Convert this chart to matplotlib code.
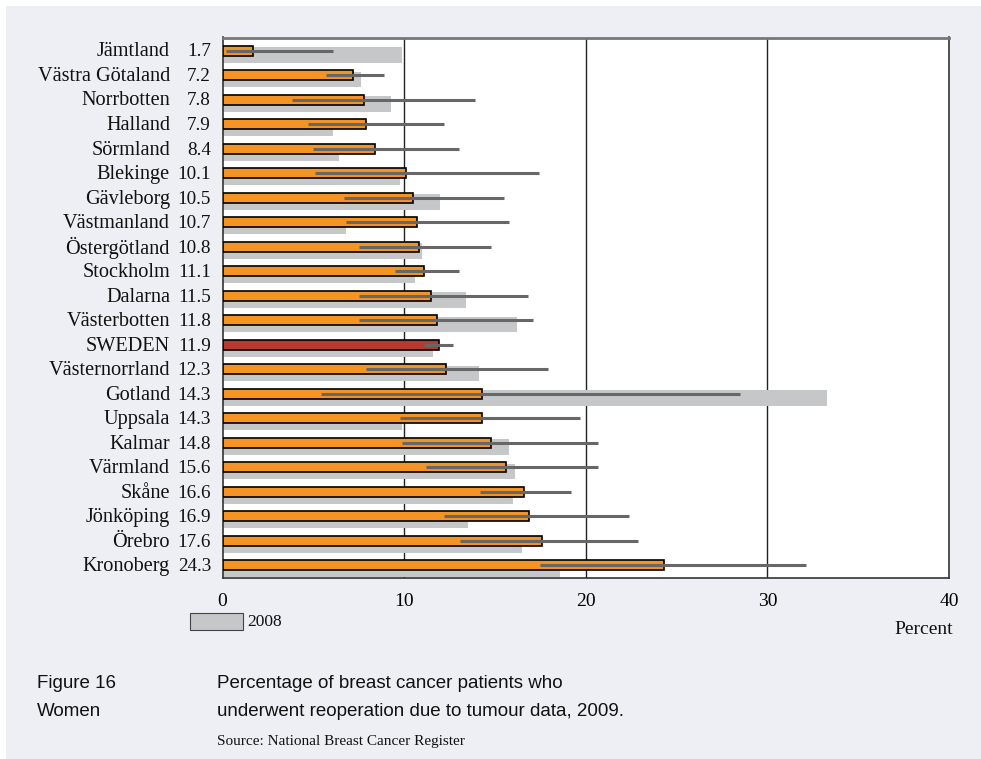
import matplotlib.pyplot as plt
from matplotlib.patches import Rectangle
from matplotlib.transforms import blended_transform_factory

regions = ["Jämtland", "Västra Götaland", "Norrbotten", "Halland", "Sörmland",
           "Blekinge", "Gävleborg", "Västmanland", "Östergötland", "Stockholm",
           "Dalarna", "Västerbotten", "SWEDEN", "Västernorrland", "Gotland",
           "Uppsala", "Kalmar", "Värmland", "Skåne", "Jönköping", "Örebro",
           "Kronoberg"]
pct_2009 = [1.7, 7.2, 7.8, 7.9, 8.4, 10.1, 10.5, 10.7, 10.8, 11.1, 11.5, 11.8,
            11.9, 12.3, 14.3, 14.3, 14.8, 15.6, 16.6, 16.9, 17.6, 24.3]
pct_2008 = [9.9, 7.6, 9.3, 6.1, 6.4, 9.8, 12.0, 6.8, 11.0, 10.6, 13.4, 16.2,
            11.6, 14.1, 33.3, 9.9, 15.8, 16.1, 16.0, 13.5, 16.5, 18.6]
ci_low = [0.2, 5.7, 3.8, 4.7, 5.0, 5.1, 6.7, 6.8, 7.5, 9.5, 7.5, 7.5,
          11.1, 7.9, 5.4, 9.8, 9.9, 11.2, 14.2, 12.2, 13.1, 17.5]
ci_high = [6.1, 8.9, 13.9, 12.2, 13.0, 17.4, 15.5, 15.8, 14.8, 13.0, 16.8, 17.1,
           12.7, 17.9, 28.5, 19.7, 20.7, 20.7, 19.2, 22.4, 22.9, 32.1]
x_ticks = [0, 10, 20, 30, 40]

bg = "#eeeff4"
orange = "#f39425"
red = "#b8392e"
grey_bar = "#c6c7c9"
ci_col = "#676767"
serif = "Liberation Serif"
sans = "Liberation Sans"

W, H = 981, 759
fig = plt.figure(figsize=(W / 100, H / 100), dpi=100, facecolor="white")
fig.add_artist(Rectangle((6 / W, 0), 1, 1 - 6 / H, transform=fig.transFigure,
                         facecolor=bg, edgecolor="none", zorder=-10))

left, right, top, bottom = 222.5, 949, 37.5, 577.7
ax = fig.add_axes([left / W, 1 - bottom / H, (right - left) / W, (bottom - top) / H])
ax.set_facecolor("white")

y = list(range(len(regions)))
colors = [red if r == "SWEDEN" else orange for r in regions]

# 2008 bars sit a bit lower and behind the 2009 bars
ax.barh([v + 0.175 for v in y], pct_2008, height=0.63, color=grey_bar, zorder=2)
ax.barh(y, pct_2009, height=0.41, color=colors, edgecolor="black",
        linewidth=1.2, zorder=3)
ax.hlines(y, ci_low, ci_high, color=ci_col, linewidth=2.2, zorder=4)

ax.set_xlim(0, 40)
ax.set_ylim(21.5, -0.54)
ax.set_xticks(x_ticks)
ax.set_xticklabels([str(t) for t in x_ticks], fontfamily=serif, fontsize=14)
ax.tick_params(axis="x", length=0, pad=11)
ax.set_yticks([])
for xv in x_ticks[1:-1]:
    ax.axvline(xv, color="#222222", linewidth=1.0, zorder=1)

for side in ["left", "right", "bottom"]:
    ax.spines[side].set_color("#333333")
    ax.spines[side].set_linewidth(1.2)
ax.spines["top"].set_color("#777777")
ax.spines["top"].set_linewidth(2)

trans = blended_transform_factory(ax.transAxes, ax.transData)
for i, (name, val) in enumerate(zip(regions, pct_2009)):
    ax.text((170 - left) / (right - left), i + 0.05, name, transform=trans,
            ha="right", va="center", fontfamily=serif, fontsize=14.6, color="#111111")
    ax.text((211 - left) / (right - left), i + 0.05, f"{val:.1f}", transform=trans,
            ha="right", va="center", fontfamily=serif, fontsize=13.8, color="#111111")

fig.text(953 / W, 1 - 630 / H, "Percent", ha="right", va="center",
         fontfamily=serif, fontsize=14, color="#111111")

# legend swatch for 2008
fig.add_artist(Rectangle((190 / W, 1 - 630 / H), 53 / W, 17 / H, transform=fig.transFigure,
                         facecolor=grey_bar, edgecolor="#444444", linewidth=0.8))
fig.text(247 / W, 1 - 622 / H, "2008", ha="left", va="center",
         fontfamily=serif, fontsize=12.5, color="#111111")

fig.text(37 / W, 1 - 683 / H, "Figure 16", ha="left", va="center",
         fontfamily=sans, fontsize=13.5, color="#111111")
fig.text(37 / W, 1 - 711 / H, "Women", ha="left", va="center",
         fontfamily=sans, fontsize=13.5, color="#111111")
fig.text(217 / W, 1 - 683 / H, "Percentage of breast cancer patients who", ha="left",
         va="center", fontfamily=sans, fontsize=13.5, color="#111111")
fig.text(217 / W, 1 - 711 / H, "underwent reoperation due to tumour data, 2009.",
         ha="left", va="center", fontfamily=sans, fontsize=13.5, color="#111111")
fig.text(217 / W, 1 - 741 / H, "Source: National Breast Cancer Register", ha="left",
         va="center", fontfamily=serif, fontsize=11, color="#111111")

fig.savefig("out.png", dpi=100, facecolor=fig.get_facecolor())
